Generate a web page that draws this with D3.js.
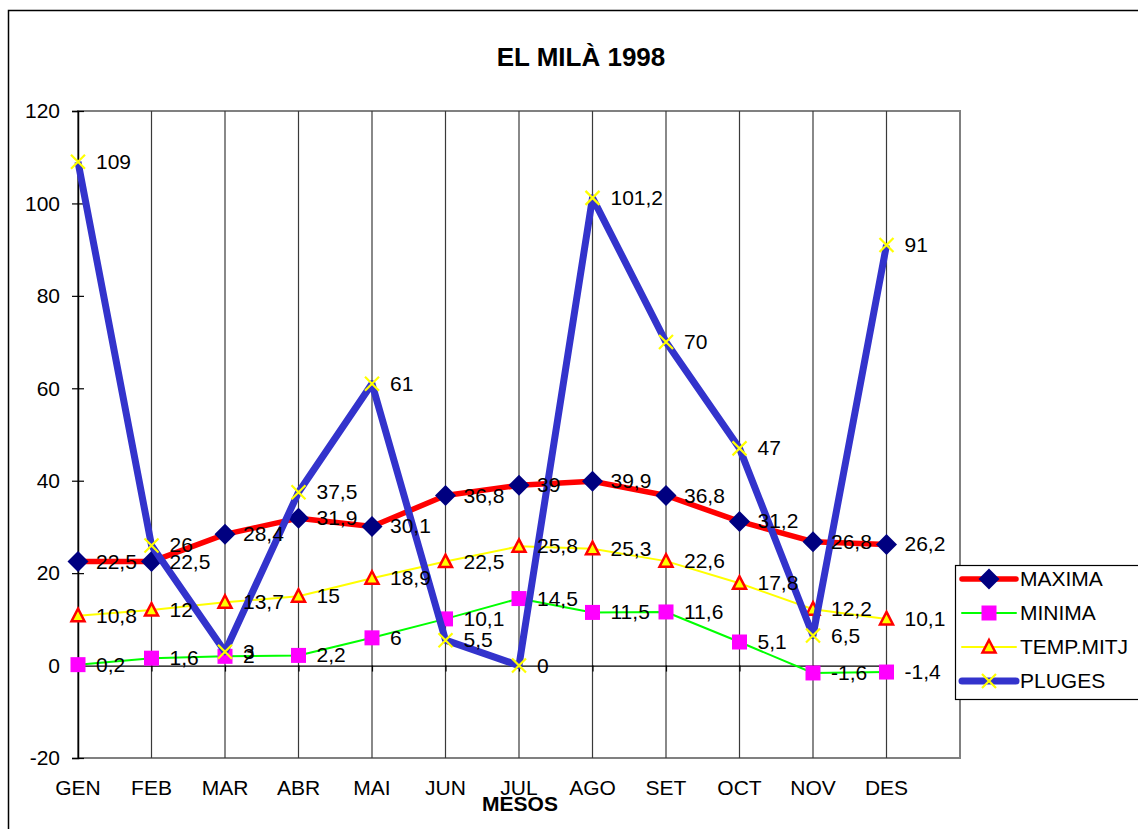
<!DOCTYPE html>
<html>
<head>
<meta charset="utf-8">
<script src="https://cdn.jsdelivr.net/npm/d3@7"></script>
<style>
	body { margin: 0; background: #fff; }
	svg text { font-family: "Liberation Sans", Arial, sans-serif; }
</style>
</head>
<body>
<svg id="chart" width="1138" height="829"></svg>
<script>

var months = ["GEN", "FEB", "MAR", "ABR", "MAI", "JUN", "JUL", "AGO", "SET", "OCT", "NOV", "DES"];
var maxima = [22.5, 22.5, 28.4, 31.9, 30.1, 36.8, 39, 39.9, 36.8, 31.2, 26.8, 26.2];
var minima = [0.2, 1.6, 2, 2.2, 6, 10.1, 14.5, 11.5, 11.6, 5.1, -1.6, -1.4];
var tempMitj = [10.8, 12, 13.7, 15, 18.9, 22.5, 25.8, 25.3, 22.6, 17.8, 12.2, 10.1];
var pluges = [109, 26, 3, 37.5, 61, 5.5, 0, 101.2, 70, 47, 6.5, 91];
var yTicks = [-20, 0, 20, 40, 60, 80, 100, 120];

var series = [
	{ name: "MAXIMA", values: maxima, line: "#ff0000", width: 5.5, marker: "diamond" },
	{ name: "MINIMA", values: minima, line: "#00ff00", width: 2, marker: "square" },
	{ name: "TEMP.MITJ", values: tempMitj, line: "#ffff00", width: 2, marker: "triangle" },
	{ name: "PLUGES", values: pluges, line: "#3333cc", width: 7, marker: "cross" }
];

var svg = d3.select("#chart");
var plot = { left: 78, right: 960, top: 111, bottom: 758 };
var fontSize = 21;

var x = d3.scalePoint()
	.domain(months)
	.range([plot.left, plot.left + (plot.right - plot.left) * 11 / 12]);

var y = d3.scaleLinear()
	.domain([-20, 120])
	.range([plot.bottom, plot.top]);

var formatLabel = function(d) { return String(d).replace(".", ","); };

// outer frame (runs off the page on the right and bottom)
svg.append("rect")
	.attr("x", 8.5).attr("y", 10.5)
	.attr("width", 1200).attr("height", 900)
	.attr("fill", "none").attr("stroke", "#000").attr("stroke-width", 1.5);

svg.append("text")
	.attr("x", 581).attr("y", 66)
	.attr("text-anchor", "middle")
	.attr("font-size", 26).attr("font-weight", "bold")
	.text("EL MILÀ 1998");

// plot border
svg.append("rect")
	.attr("x", plot.left).attr("y", plot.top)
	.attr("width", plot.right - plot.left).attr("height", plot.bottom - plot.top)
	.attr("fill", "none").attr("stroke", "#808080").attr("stroke-width", 2);

// vertical gridlines
svg.append("g").selectAll("line")
	.data(months.slice(1))
	.enter().append("line")
	.attr("x1", function(d) { return x(d); })
	.attr("x2", function(d) { return x(d); })
	.attr("y1", plot.top).attr("y2", plot.bottom)
	.attr("stroke", "#3a3a3a").attr("stroke-width", 1.2);

// y axis
var yAxis = svg.append("g")
	.attr("transform", "translate(" + plot.left + ",0)")
	.call(d3.axisLeft(y).tickValues(yTicks).tickSize(6).tickPadding(12)
		.tickFormat(function(d) { return String(d); }));

yAxis.select(".domain").attr("stroke", "#000").attr("stroke-width", 1.5);
yAxis.selectAll(".tick line").attr("x1", 6).attr("stroke-width", 1.2);
yAxis.selectAll("text").attr("font-size", fontSize).attr("fill", "#000")
	.attr("font-family", "Liberation Sans, Arial, sans-serif");

// category axis crossing at zero
var xAxis = svg.append("g")
	.attr("transform", "translate(0," + y(0) + ")")
	.call(d3.axisBottom(x).tickSize(6).tickSizeOuter(0));

xAxis.select(".domain").attr("stroke", "#000").attr("stroke-width", 1.2);
xAxis.selectAll(".tick line").attr("stroke-width", 1.2);
xAxis.selectAll("text").remove();

svg.append("g").selectAll("text")
	.data(months)
	.enter().append("text")
	.attr("x", function(d) { return x(d); })
	.attr("y", 795)
	.attr("text-anchor", "middle")
	.attr("font-size", fontSize)
	.text(function(d) { return d; });

svg.append("text")
	.attr("x", 520).attr("y", 811)
	.attr("text-anchor", "middle")
	.attr("font-size", 21).attr("font-weight", "bold")
	.text("MESOS");

function drawMarker(g, type) {
	if (type === "diamond") {
		g.append("path")
			.attr("d", "M0,-10.5L10.5,0L0,10.5L-10.5,0Z")
			.attr("fill", "#000080");
	} else if (type === "square") {
		g.append("rect")
			.attr("x", -7.5).attr("y", -7.5).attr("width", 15).attr("height", 15)
			.attr("fill", "#ff00ff");
	} else if (type === "triangle") {
		g.append("path")
			.attr("d", "M0,-7L6.5,5.5L-6.5,5.5Z")
			.attr("fill", "#ffff00").attr("stroke", "#ff0000").attr("stroke-width", 2.5);
	} else {
		g.append("path")
			.attr("d", "M-7,-7L7,7M7,-7L-7,7")
			.attr("stroke", "#ffff00").attr("stroke-width", 2.2);
	}
}

var line = d3.line()
	.x(function(d, i) { return x(months[i]); })
	.y(function(d) { return y(d); });

series.forEach(function(s) {
	var g = svg.append("g");

	g.append("path")
		.datum(s.values)
		.attr("d", line)
		.attr("fill", "none")
		.attr("stroke", s.line)
		.attr("stroke-width", s.width)
		.attr("stroke-linejoin", "round");

	g.selectAll(".marker")
		.data(s.values)
		.enter().append("g")
		.attr("class", "marker")
		.attr("transform", function(d, i) { return "translate(" + x(months[i]) + "," + y(d) + ")"; })
		.each(function() { drawMarker(d3.select(this), s.marker); });
});

// data labels on top of everything
series.forEach(function(s) {
	svg.append("g").selectAll("text")
		.data(s.values)
		.enter().append("text")
		.attr("x", function(d, i) { return x(months[i]) + 18; })
		.attr("y", function(d) { return y(d) + 7; })
		.attr("font-size", fontSize)
		.text(formatLabel);
});

// legend
var legend = svg.append("g").attr("transform", "translate(955,565)");

legend.append("rect")
	.attr("x", 0.5).attr("y", 0.5)
	.attr("width", 200).attr("height", 134)
	.attr("fill", "#fff").attr("stroke", "#000").attr("stroke-width", 1.2);

var items = legend.selectAll(".item")
	.data(series)
	.enter().append("g")
	.attr("class", "item")
	.attr("transform", function(d, i) { return "translate(0," + (14 + i * 34) + ")"; });

items.append("line")
	.attr("x1", 7).attr("x2", 61)
	.attr("stroke", function(d) { return d.line; })
	.attr("stroke-width", function(d) { return d.width; })
	.attr("stroke-linecap", "round");

items.each(function(d) {
	var m = d3.select(this).append("g").attr("transform", "translate(34,0)");
	drawMarker(m, d.marker);
});

items.append("text")
	.attr("x", 65).attr("y", 7)
	.attr("font-size", fontSize)
	.text(function(d) { return d.name; });

</script>
</body>
</html>
